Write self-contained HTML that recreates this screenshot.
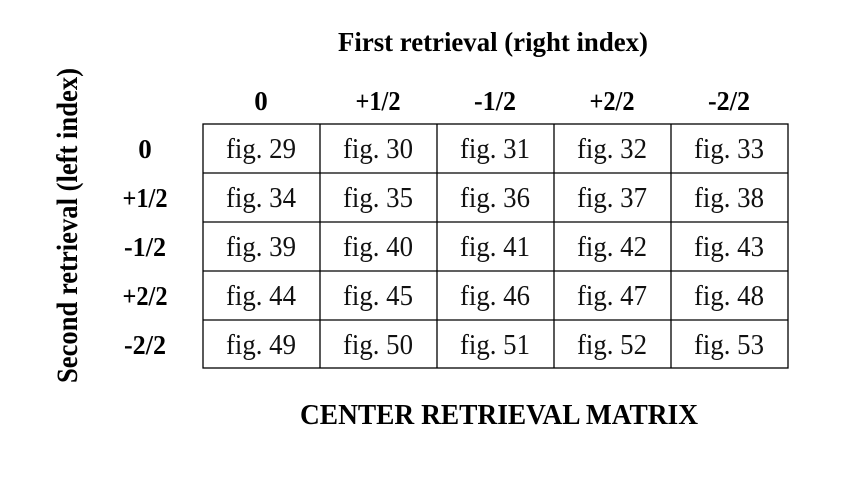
<!DOCTYPE html>
<html><head><meta charset="utf-8"><style>html,body{margin:0;padding:0;background:#fff}</style></head>
<body>
<svg width="859" height="478" viewBox="0 0 859 478" xmlns="http://www.w3.org/2000/svg" font-family="Liberation Serif, serif">
<rect width="859" height="478" fill="#fff"/>
<text x="338" y="51" font-size="27" font-weight="bold" textLength="310" lengthAdjust="spacingAndGlyphs">First retrieval (right index)</text>
<text transform="translate(77,383) rotate(-90)" font-size="30" font-weight="bold" textLength="315" lengthAdjust="spacingAndGlyphs">Second retrieval (left index)</text>
<text x="300" y="424" font-size="28" font-weight="bold" textLength="398" lengthAdjust="spacingAndGlyphs">CENTER RETRIEVAL MATRIX</text>
<g font-size="27" font-weight="bold" text-anchor="middle">
<text x="261" y="110">0</text><text x="378" y="110" textLength="45" lengthAdjust="spacingAndGlyphs">+1/2</text><text x="495" y="110" textLength="42" lengthAdjust="spacingAndGlyphs">-1/2</text><text x="612" y="110" textLength="45" lengthAdjust="spacingAndGlyphs">+2/2</text><text x="729" y="110" textLength="42" lengthAdjust="spacingAndGlyphs">-2/2</text>
<text x="145" y="158">0</text><text x="145" y="207" textLength="45" lengthAdjust="spacingAndGlyphs">+1/2</text><text x="145" y="256" textLength="42" lengthAdjust="spacingAndGlyphs">-1/2</text><text x="145" y="305" textLength="45" lengthAdjust="spacingAndGlyphs">+2/2</text><text x="145" y="354" textLength="42" lengthAdjust="spacingAndGlyphs">-2/2</text>
</g>
<g stroke="#000" stroke-width="1.3" fill="none">
<rect x="203" y="124" width="585" height="244"/>
<line x1="320" y1="124" x2="320" y2="368"/><line x1="437" y1="124" x2="437" y2="368"/><line x1="554" y1="124" x2="554" y2="368"/><line x1="671" y1="124" x2="671" y2="368"/>
<line x1="203" y1="173" x2="788" y2="173"/><line x1="203" y1="222" x2="788" y2="222"/><line x1="203" y1="271" x2="788" y2="271"/><line x1="203" y1="320" x2="788" y2="320"/>
</g>
<g font-size="29" text-anchor="middle" fill="#111">
<g textLength="70">
<text x="261" y="158" textLength="70" lengthAdjust="spacingAndGlyphs">fig. 29</text><text x="378" y="158" textLength="70" lengthAdjust="spacingAndGlyphs">fig. 30</text><text x="495" y="158" textLength="70" lengthAdjust="spacingAndGlyphs">fig. 31</text><text x="612" y="158" textLength="70" lengthAdjust="spacingAndGlyphs">fig. 32</text><text x="729" y="158" textLength="70" lengthAdjust="spacingAndGlyphs">fig. 33</text>
<text x="261" y="207" textLength="70" lengthAdjust="spacingAndGlyphs">fig. 34</text><text x="378" y="207" textLength="70" lengthAdjust="spacingAndGlyphs">fig. 35</text><text x="495" y="207" textLength="70" lengthAdjust="spacingAndGlyphs">fig. 36</text><text x="612" y="207" textLength="70" lengthAdjust="spacingAndGlyphs">fig. 37</text><text x="729" y="207" textLength="70" lengthAdjust="spacingAndGlyphs">fig. 38</text>
<text x="261" y="256" textLength="70" lengthAdjust="spacingAndGlyphs">fig. 39</text><text x="378" y="256" textLength="70" lengthAdjust="spacingAndGlyphs">fig. 40</text><text x="495" y="256" textLength="70" lengthAdjust="spacingAndGlyphs">fig. 41</text><text x="612" y="256" textLength="70" lengthAdjust="spacingAndGlyphs">fig. 42</text><text x="729" y="256" textLength="70" lengthAdjust="spacingAndGlyphs">fig. 43</text>
<text x="261" y="305" textLength="70" lengthAdjust="spacingAndGlyphs">fig. 44</text><text x="378" y="305" textLength="70" lengthAdjust="spacingAndGlyphs">fig. 45</text><text x="495" y="305" textLength="70" lengthAdjust="spacingAndGlyphs">fig. 46</text><text x="612" y="305" textLength="70" lengthAdjust="spacingAndGlyphs">fig. 47</text><text x="729" y="305" textLength="70" lengthAdjust="spacingAndGlyphs">fig. 48</text>
<text x="261" y="354" textLength="70" lengthAdjust="spacingAndGlyphs">fig. 49</text><text x="378" y="354" textLength="70" lengthAdjust="spacingAndGlyphs">fig. 50</text><text x="495" y="354" textLength="70" lengthAdjust="spacingAndGlyphs">fig. 51</text><text x="612" y="354" textLength="70" lengthAdjust="spacingAndGlyphs">fig. 52</text><text x="729" y="354" textLength="70" lengthAdjust="spacingAndGlyphs">fig. 53</text>
</g>
</g>
</svg>
</body></html>
